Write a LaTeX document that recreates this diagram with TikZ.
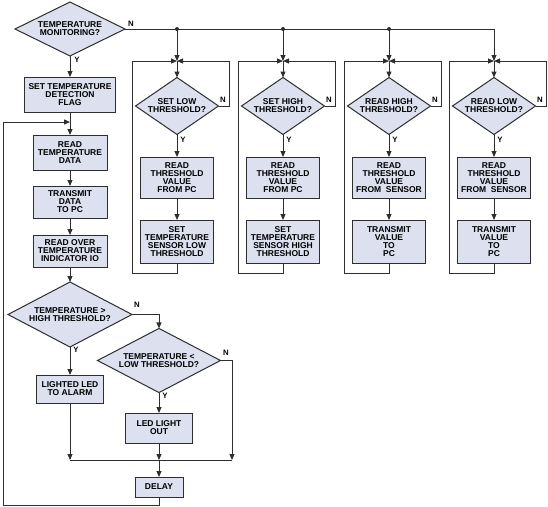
\documentclass[tikz,border=0pt]{standalone}
\usepackage{fontspec}
\setmainfont{Liberation Sans}
\usetikzlibrary{shapes.geometric,arrows.meta}
\definecolor{boxfill}{HTML}{DCE0EF}
\definecolor{lineclr}{HTML}{2E2E2E}
\tikzset{
    procbox/.style={draw=lineclr, fill=boxfill, line width=1pt, align=center,
        inner sep=0pt, outer sep=0pt, font=\bfseries\fontsize{8.5}{8}\selectfont},
    decision/.style={diamond, draw=lineclr, fill=boxfill, line width=1pt, align=center,
        inner sep=0pt, outer sep=0pt, aspect=1.6, font=\bfseries\fontsize{8.5}{8}\selectfont},
    flow/.style={draw=lineclr, line width=1pt},
    arr/.style={flow, -{Triangle[length=6pt,width=5pt]}},
    tag/.style={font=\bfseries\fontsize{7.8}{8}\selectfont, inner sep=0pt}
}
\begin{document}
\begin{tikzpicture}[x=1pt,y=-1pt]
    \useasboundingbox (0,0) rectangle (548,506);

    % Main column
    \node[decision, minimum width=110, minimum height=52] (mon) at (70,29) {TEMPERATURE\\MONITORING?};
    \node[procbox, minimum width=91, minimum height=35] (flag) at (70,94.5) {SET TEMPERATURE\\DETECTION\\FLAG};
    \node[procbox, minimum width=74, minimum height=35] (rdata) at (70,152.5) {READ\\TEMPERATURE\\DATA};
    \node[procbox, minimum width=74, minimum height=32] (tx) at (70,202) {TRANSMIT\\DATA\\TO PC};
    \node[procbox, minimum width=74, minimum height=32] (over) at (70,251) {READ OVER\\TEMPERATURE\\INDICATOR IO};
    \node[decision, minimum width=124, minimum height=59] (hi) at (70,314.5) {TEMPERATURE >\\HIGH THRESHOLD?};
    \node[decision, minimum width=123, minimum height=59] (lo) at (159,360.5) {TEMPERATURE <\\LOW THRESHOLD?};
    \node[procbox, minimum width=67, minimum height=28] (alarm) at (70,389) {LIGHTED LED\\TO ALARM};
    \node[procbox, minimum width=67, minimum height=30] (out) at (159,428) {LED LIGHT\\OUT};
    \node[procbox, minimum width=48, minimum height=20] (delay) at (159,487) {DELAY};

    % Junction points
    \coordinate (fb) at (70,122);
    \coordinate (m1) at (70,460);
    \coordinate (m2) at (159,460);
    \coordinate (m3) at (232,460);
    \coordinate (c1) at (3,505);
    \coordinate (t4) at (494,29);

    % Main column connectors
    \draw[arr] (mon.south) -- (flag.north);
    \draw[arr] (flag.south) -- (rdata.north);
    \draw[arr] (rdata.south) -- (tx.north);
    \draw[arr] (tx.south) -- (over.north);
    \draw[arr] (over.south) -- (hi.north);
    \draw[arr] (hi.east) -| (lo.north);
    \draw[arr] (hi.south) -- (alarm.north);
    \draw[arr] (lo.south) -- (out.north);
    \draw[arr] (lo.east) -| (m3);
    \draw[arr] (alarm.south) -- (m1);
    \draw[arr] (out.south) -- (m2);
    \draw[flow] (m1) -- (m3);
    \draw[arr] (m2) -- (delay.north);
    \draw[arr] (delay.south) |- (c1) |- (fb);

    % Labels
    \node[tag] at (131,24) {N};
    \node[tag] at (77,60) {Y};
    \node[tag] at (137,305) {N};
    \node[tag] at (76,350) {Y};
    \node[tag] at (226,353) {N};
    \node[tag] at (165,396) {Y};

    % Threshold branches
    \draw[flow] (mon.east) -- (t4);
    \foreach \i/\x/\q/\r/\s in {
        1/177/{SET LOW\\THRESHOLD?}/{READ\\THRESHOLD\\VALUE\\FROM PC}/{SET\\TEMPERATURE\\SENSOR LOW\\THRESHOLD},
        2/283/{SET HIGH\\THRESHOLD?}/{READ\\THRESHOLD\\VALUE\\FROM PC}/{SET\\TEMPERATURE\\SENSOR HIGH\\THRESHOLD},
        3/389/{READ HIGH\\THRESHOLD?}/{READ\\THRESHOLD\\VALUE\\FROM\ \ SENSOR}/{TRANSMIT\\VALUE\\TO\\PC},
        4/494/{READ LOW\\THRESHOLD?}/{READ\\THRESHOLD\\VALUE\\FROM\ \ SENSOR}/{TRANSMIT\\VALUE\\TO\\PC}} {
        \coordinate (t\i) at (\x,29);
        \coordinate (j\i) at (\x,61);
        \coordinate (b\i) at (\x,273);
        \node[decision, minimum width=83, minimum height=57] (q\i) at (\x,106) {\q};
        \node[procbox, minimum width=73, minimum height=41] (r\i) at (\x,177.5) {\r};
        \node[procbox, minimum width=73, minimum height=43] (s\i) at (\x,241.5) {\s};
        \draw[arr] (t\i) -- (j\i);
        \draw[arr] (j\i) -- (q\i.north);
        \draw[arr] (q\i.south) -- (r\i.north);
        \draw[arr] (r\i.south) -- (s\i.north);
        \draw[arr] (s\i.south) -- (b\i) -- ++(-45,0) |- (j\i);
        \draw[arr] (q\i.east) -- ++(10.5,0) |- (j\i);
        \node[tag] at (\x+6,140) {Y};
        \node[tag] at (\x+46,100) {N};
    }
    \foreach \i in {1,2,3} {
        \fill[lineclr] (t\i) circle (2pt);
    }
\end{tikzpicture}
\end{document}
